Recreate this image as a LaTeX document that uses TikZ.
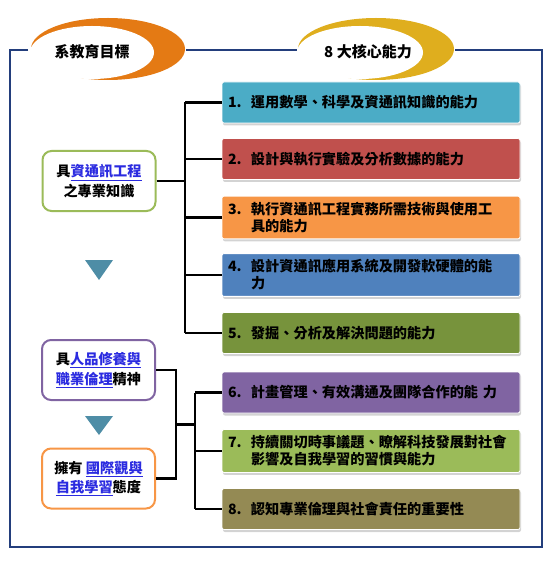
\documentclass[tikz,border=0pt]{standalone}
\usepackage{fontspec}
\setmainfont{Noto Sans CJK TC}
\usetikzlibrary{shadows}

\definecolor{framenavy}{HTML}{233E7C}
\definecolor{ringorange}{HTML}{E47A14}
\definecolor{ringgold}{HTML}{DFAE1E}
\definecolor{linkblue}{HTML}{2B2BE0}
\definecolor{arrowteal}{HTML}{4E8DA6}
\definecolor{abilityA}{HTML}{4BACC6}
\definecolor{abilityB}{HTML}{C0504D}
\definecolor{abilityC}{HTML}{F79646}
\definecolor{abilityD}{HTML}{4F81BD}
\definecolor{abilityE}{HTML}{77933C}
\definecolor{abilityF}{HTML}{8064A2}
\definecolor{abilityG}{HTML}{9BBB59}
\definecolor{abilityH}{HTML}{948A54}

\newcommand{\lnk}[1]{\textcolor{linkblue}{\underline{#1}}}
\newcommand{\num}[1]{\makebox[23pt][l]{#1}}

\tikzset{
  ability/.style={fill=#1, draw=white, line width=0.8pt, rounded corners=2pt,
    minimum width=298pt, minimum height=41pt, text width=286pt, inner sep=6pt,
    align=left, anchor=center,
    font=\fontsize{14.2}{17}\selectfont\bfseries,
    drop shadow={shadow xshift=1pt, shadow yshift=-2.5pt, opacity=0.35}},
  goal/.style={draw=#1, line width=2pt, fill=white, rounded corners=9pt,
    minimum width=113pt, minimum height=60pt, align=center,
    font=\fontsize{14.2}{19.5}\selectfont\bfseries},
  branch/.style={line width=2.6pt, black},
  turn/.style={fill=arrowteal, draw=none}
}

\begin{document}
\begin{tikzpicture}[x=1pt, y=-1pt]
  \useasboundingbox (0,0) rectangle (553,561);

  % outer frame
  \draw[framenavy, line width=2.8pt] (28,50) -- (10,50) -- (10,547) -- (542,547) -- (542,50) -- (455,50);
  \draw[framenavy, line width=2.8pt] (186,50) -- (297,50);

  % title rings
  \fill[ringorange] (108,49) ellipse [x radius=77, y radius=31];
  \fill[white] (92,52.5) ellipse [x radius=62, y radius=26.5];
  \node[font=\fontsize{15}{18}\selectfont\bfseries] (goaltitle) at (92,52) {系教育目標};

  \fill[ringgold] (376,49) ellipse [x radius=78, y radius=31];
  \fill[white] (360,52.5) ellipse [x radius=63, y radius=26.5];
  \node[font=\fontsize{15}{18}\selectfont\bfseries] (coretitle) at (368,52) {8 大核心能力};

  % goals
  \node[goal=abilityG] (knowledge) at (99,181) {具\lnk{資通訊工程}\\之專業知識};
  \node[goal=abilityF] (ethics) at (98.5,370) {具\lnk{人品修養與}\\\lnk{職業倫理}精神};
  \node[goal=abilityC] (outlook) at (98.5,478.5) {擁有 \lnk{國際觀與}\\\lnk{自我學習}態度};

  \fill[turn] (85,260) -- (113,260) -- (99,280) -- cycle;
  \fill[turn] (85,416) -- (113,416) -- (99,435) -- cycle;

  % abilities
  \node[ability=abilityA] (c1) at (371,102.5) {\num{1.}運用數學、科學及資通訊知識的能力};
  \node[ability=abilityB] (c2) at (371,159) {\num{2.}設計與執行實驗及分析數據的能力};
  \node[ability=abilityC] (c3) at (371,217.5) {\num{3.}執行資通訊工程實務所需技術與使用工\\\hspace*{23pt}具的能力};
  \node[ability=abilityD] (c4) at (371,275) {\num{4.}設計資通訊應用系統及開發軟硬體的能\\\hspace*{23pt}力};
  \node[ability=abilityE] (c5) at (371,333) {\num{5.}發掘、分析及解決問題的能力};
  \node[ability=abilityF] (c6) at (371,392.5) {\num{6.}計畫管理、有效溝通及團隊合作的能 力};
  \node[ability=abilityG] (c7) at (371,451) {\num{7.}持續關切時事議題、瞭解科技發展對社會\\\hspace*{23pt}影響及自我學習的習慣與能力};
  \node[ability=abilityH] (c8) at (371,509) {\num{8.}認知專業倫理與社會責任的重要性};

  % connectors, upper group
  \coordinate (trunkA) at (185,181);
  \draw[branch] (knowledge.east) -- (trunkA);
  \draw[branch] (trunkA |- c1.west) -- (trunkA |- c5.west);
  \foreach \i in {1,...,5}
    \draw[branch] (trunkA |- c\i.west) -- (c\i.west);

  % connectors, lower group
  \coordinate (joinB) at (176,424.25);
  \coordinate (trunkB) at (195,424.25);
  \draw[branch] (ethics.east) -| (joinB) |- (outlook.east);
  \draw[branch] (joinB) -- (trunkB);
  \draw[branch] (trunkB |- c6.west) -- (trunkB |- c8.west);
  \foreach \i in {6,7,8}
    \draw[branch] (trunkB |- c\i.west) -- (c\i.west);
\end{tikzpicture}
\end{document}
